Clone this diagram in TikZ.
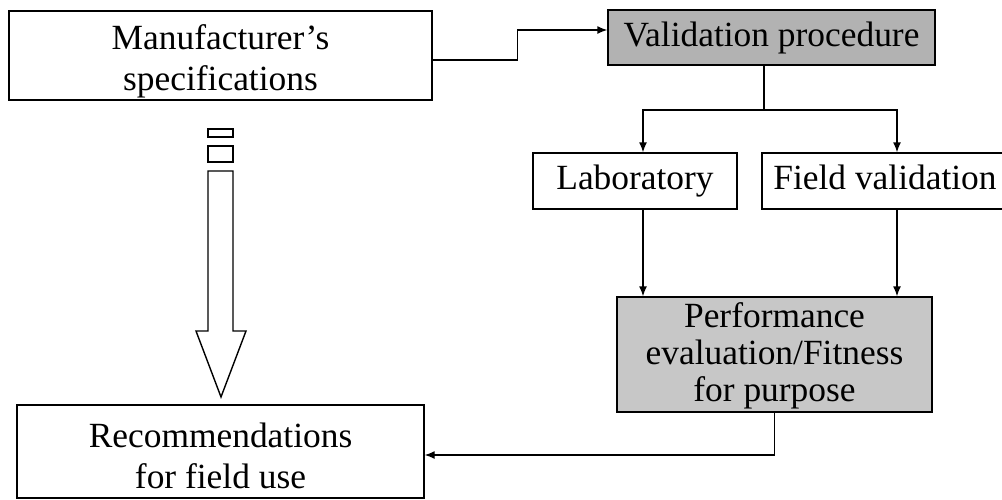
\documentclass[tikz,border=0pt]{standalone}
\usepackage{fontspec}
\setmainfont{Liberation Serif}
\usetikzlibrary{arrows.meta}

\tikzset{
  box/.style={draw, line width=1.4pt, inner sep=0pt, align=center,
    font=\fontsize{35.4}{41}\selectfont},
  one/.style={text height=25pt, text depth=8pt},
  link/.style={line width=1.4pt, -{Latex[length=10pt,width=8pt]}}
}
% extra room above the first line pushes the text down
\newcommand{\lift}[1]{\rule{0pt}{#1}}

\begin{document}
\begin{tikzpicture}[x=1pt, y=-1pt]
  \useasboundingbox (0,0) rectangle (1002,499);

  \node[box, minimum width=423pt, minimum height=89pt] (manu) at (220.5,55.5) {\lift{36pt}Manufacturer's\\specifications};
  \node[box, one, fill=black!30, minimum width=327pt, minimum height=55pt] (valid) at (771.5,37.5) {Validation procedure};
  \node[box, one, minimum width=204pt, minimum height=56pt] (lab) at (635,181) {Laboratory};
  \node[box, one, minimum width=246pt, minimum height=56pt] (field) at (885,181) {Field validation};
  \node[box, fill=black!22, minimum width=315pt, minimum height=115pt, font=\fontsize{35.4}{37}\selectfont] (perf) at (774.5,354.5) {\lift{28pt}Performance\\evaluation/Fitness\\for purpose};
  \node[box, minimum width=407pt, minimum height=93pt] (recom) at (220.5,451.5) {\lift{34pt}Recommendations\\for field use};

  % manufacturer to validation
  \draw[link] ([yshift=-4.5pt]manu.east) -- ++(85,0) |- ([yshift=7.5pt]valid.west);

  % validation splits in two
  \coordinate (split) at (764,110);
  \draw[line width=1.4pt] (valid.south -| split) -- (split);
  \draw[link] (split) -| ([xshift=8pt]lab.north);
  \draw[link] (split) -| ([xshift=12pt]field.north);

  % both into performance
  \draw[link] ([xshift=8pt]lab.south) -- ([xshift=8pt]lab.south |- perf.north);
  \draw[link] ([xshift=12pt]field.south) -- ([xshift=12pt]field.south |- perf.north);

  % performance back to recommendations
  \draw[link] (perf.south) |- ([yshift=-3.5pt]recom.east);

  % hollow arrow
  \draw[line width=1.4pt] (208,129) rectangle (233,137);
  \draw[line width=1.4pt] (208,146) rectangle (233,162);
  \draw[line width=1.4pt] (208,171) -- (233,171) -- (233,331) -- (246,331)
    -- (221,397) -- (196,331) -- (208,331) -- cycle;
\end{tikzpicture}
\end{document}
